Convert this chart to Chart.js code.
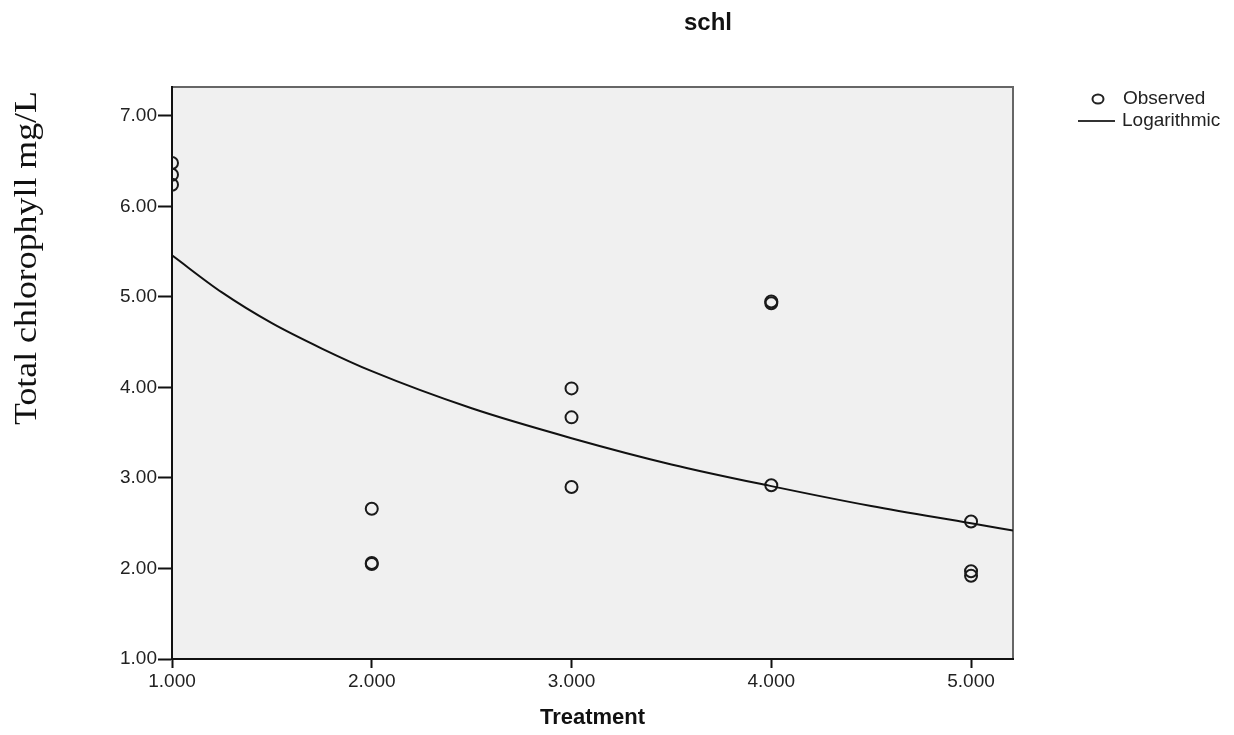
<!DOCTYPE html>
<html>
<head>
<meta charset="utf-8">
<script src="https://cdn.jsdelivr.net/npm/chart.js@4"></script>
<style>
  body { margin: 0; background: #fff; }
  canvas { display: block; }
</style>
</head>
<body>
<canvas id="myChart" width="1234" height="735"></canvas>
<script>
// observed values, 3 replicates per treatment
const xObserved = [1, 1, 1, 2, 2, 2, 3, 3, 3, 4, 4, 4, 5, 5, 5];
const yObserved = [6.48, 6.35, 6.24, 2.66, 2.06, 2.05, 3.99, 3.67, 2.90, 4.95, 4.93, 2.92, 2.52, 1.97, 1.92];

// logarithmic curve
const xCurve = [1, 1.25, 1.5, 1.75, 2, 2.5, 3, 3.5, 4, 4.5, 5, 5.21];
const yCurve = [5.46, 5.05, 4.71, 4.43, 4.18, 3.77, 3.44, 3.15, 2.91, 2.69, 2.50, 2.42];

const xTicks = [1, 2, 3, 4, 5];
const yTicks = [1, 2, 3, 4, 5, 6, 7];

const chartTitle = "schl";
const xTitle = "Treatment";
const yTitle = "Total chlorophyll mg/L";
const legendLabels = ["Observed", "Logarithmic"];

Chart.defaults.font.family = "'Liberation Sans', Arial, sans-serif";
Chart.defaults.color = "#222";

const plotBox = {
    id: "plotBox",
    beforeDraw(chart) {
        const { ctx, chartArea: a } = chart;
        ctx.save();
        ctx.fillStyle = "#f0f0f0";
        ctx.fillRect(a.left, a.top, a.right - a.left, a.bottom - a.top);
        ctx.strokeStyle = "#666";
        ctx.lineWidth = 2;
        ctx.beginPath();
        ctx.moveTo(a.left, a.top);
        ctx.lineTo(a.right, a.top);
        ctx.lineTo(a.right, a.bottom);
        ctx.stroke();
        ctx.restore();
    },
    afterDraw(chart) {
        const ctx = chart.ctx;
        ctx.save();
        // title
        ctx.fillStyle = "#111";
        ctx.font = "bold 24px 'Liberation Sans', Arial, sans-serif";
        ctx.textAlign = "center";
        ctx.textBaseline = "alphabetic";
        ctx.fillText(chartTitle, 708, 30);

        // y title (a bit stretched along its length, like the picture)
        ctx.save();
        ctx.translate(28, 258);
        ctx.rotate(-Math.PI / 2);
        ctx.scale(1.12, 1);
        ctx.font = "32px 'Liberation Serif', 'Times New Roman', serif";
        ctx.textBaseline = "middle";
        ctx.fillText(yTitle, 0, 0);
        ctx.restore();

        // legend
        ctx.font = "19px 'Liberation Sans', Arial, sans-serif";
        ctx.textAlign = "left";
        ctx.textBaseline = "middle";
        ctx.fillStyle = "#222";
        ctx.strokeStyle = "#222";
        ctx.lineWidth = 2;
        ctx.beginPath();
        ctx.ellipse(1098, 99, 5.5, 4.5, 0, 0, Math.PI * 2);
        ctx.stroke();
        ctx.fillText(legendLabels[0], 1123, 99);
        ctx.strokeStyle = "#333";
        ctx.beginPath();
        ctx.moveTo(1078, 121);
        ctx.lineTo(1115, 121);
        ctx.stroke();
        ctx.fillText(legendLabels[1], 1122, 121);
        ctx.restore();
    }
};

const Mychart = document.getElementById("myChart");

new Chart(Mychart, {
    type: "scatter",
    plugins: [plotBox],
    data: {
        datasets: [
            {
                label: legendLabels[1],
                data: xCurve.map((x, i) => ({ x: x, y: yCurve[i] })),
                showLine: true,
                borderColor: "#111",
                borderWidth: 2,
                pointRadius: 0,
                cubicInterpolationMode: "monotone",
                clip: 0,
            },
            {
                label: legendLabels[0],
                data: xObserved.map((x, i) => ({ x: x, y: yObserved[i] })),
                pointStyle: "circle",
                pointRadius: 6,
                borderWidth: 2,
                borderColor: "#1a1a1a",
                backgroundColor: "rgba(0,0,0,0)",
                clip: 0,
            },
        ],
    },
    options: {
        responsive: false,
        animation: false,
        events: [],
        layout: {
            padding: { top: 87, right: 221, left: 0, bottom: 0 },
        },
        plugins: {
            legend: { display: false },
            tooltip: { enabled: false },
        },
        scales: {
            x: {
                type: "linear",
                min: 1,
                max: 5.21,
                afterBuildTicks: (s) => { s.ticks = xTicks.map((v) => ({ value: v })); },
                afterFit: (s) => { s.height = 76; },
                ticks: {
                    callback: (v) => Number(v).toFixed(3),
                    font: { size: 19 },
                    color: "#222",
                    padding: 2,
                    maxRotation: 0,
                },
                grid: {
                    drawOnChartArea: false,
                    tickLength: 9,
                    tickColor: "#111",
                    tickWidth: 2,
                },
                border: { color: "#111", width: 2 },
                title: {
                    display: true,
                    text: xTitle,
                    font: { size: 22, weight: "bold" },
                    color: "#111",
                    padding: { top: 4, bottom: 4 },
                },
            },
            y: {
                type: "linear",
                min: 1,
                max: 7.32,
                afterBuildTicks: (s) => { s.ticks = yTicks.map((v) => ({ value: v })); },
                afterFit: (s) => { s.width = 172; },
                ticks: {
                    callback: (v) => Number(v).toFixed(2),
                    font: { size: 19 },
                    color: "#222",
                    padding: 1,
                },
                grid: {
                    drawOnChartArea: false,
                    tickLength: 14,
                    tickColor: "#111",
                    tickWidth: 2,
                },
                border: { color: "#111", width: 2 },
            },
        },
    },
});
</script>
</body>
</html>
